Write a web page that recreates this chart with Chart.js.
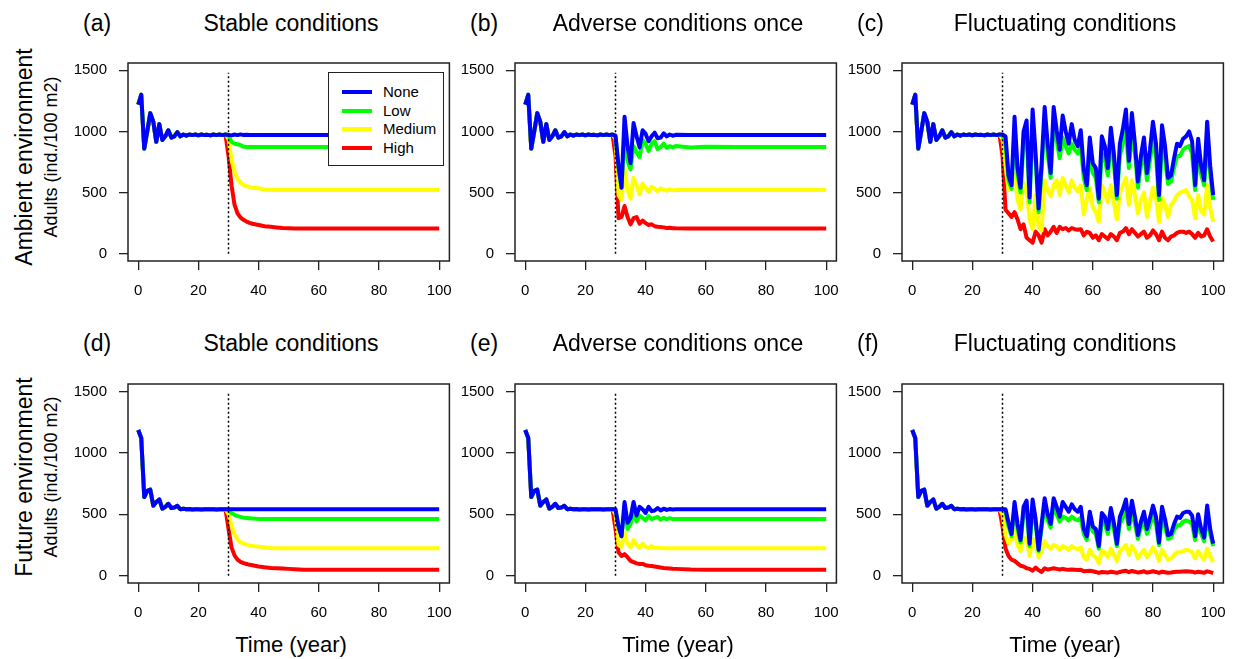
<!DOCTYPE html>
<html>
<head>
<meta charset="utf-8">
<title>Adults over time</title>
<script src="https://cdn.jsdelivr.net/npm/chart.js@4.4.1/dist/chart.umd.min.js"></script>
<style>
  body { margin: 0; background: #fff; width: 1235px; height: 659px; overflow: hidden; position: relative;
         font-family: "Liberation Sans", Arial, sans-serif; color: #000; }
  .txt { position: absolute; white-space: nowrap; line-height: 1; }
  .rot { position: absolute; white-space: nowrap; line-height: 1; transform: translate(-50%, -50%) rotate(-90deg); }
  .legend { position: absolute; border: 1.5px solid #222; background: #fff; box-sizing: border-box; }
  .legend .sw { position: absolute; height: 4px; }
  .legend .lb { position: absolute; font-size: 15px; line-height: 1; }
</style>
</head>
<body>
<script>
// ---- data ----
const seriesNames = ["None", "Low", "Medium", "High"];
const seriesColors = ["#0000ff", "#00ff00", "#ffff00", "#ff0000"];
const xTicks = [0, 20, 40, 60, 80, 100];
const yTicks = [0, 500, 1000, 1500];
const changeYear = 30;
const markerTop = [1480, 1500];

const yearsEarly = [0, 1, 2, 3, 4, 5, 6, 7, 8, 9, 10, 11, 12, 13, 14, 15, 16, 17, 18, 19,
                    20, 21, 22, 23, 24, 25, 26, 27, 28, 29];
const noneEarlyAmbient = [1220, 1300, 860, 1000, 1150, 1080, 915, 1060, 930, 960,
                          1010, 950, 960, 995, 960, 975, 965, 975, 970, 975,
                          968, 975, 970, 972, 968, 975, 970, 975, 970, 975];
const noneEarlyFuture = [1185, 1120, 640, 690, 700, 570, 600, 620, 545, 560,
                         585, 550, 555, 568, 540, 545, 540, 542, 538, 541,
                         540, 539, 541, 540, 540, 541, 539, 540, 540, 540];

// stable conditions (a, d)
const yearsStable = [30, 31, 32, 33, 34, 35, 36, 37, 38, 40, 42, 44, 46, 48, 50, 52, 55, 60, 70, 80, 90, 100];
const noneA = [972, 968, 975, 970, 976, 970, 972, 970, 970, 970, 970, 970, 970, 970, 970, 970, 970, 970, 970, 970, 970, 970];
const lowA  = [965, 915, 900, 895, 888, 876, 872, 872, 872, 872, 872, 872, 872, 872, 872, 872, 872, 872, 872, 872, 872, 872];
const medA  = [940, 770, 670, 610, 580, 562, 552, 545, 540, 535, 525, 522, 521, 520, 520, 520, 520, 520, 520, 520, 520, 520];
const highA = [800, 560, 400, 330, 295, 277, 262, 252, 245, 235, 225, 220, 215, 210, 207, 205, 205, 205, 205, 205, 205, 205];
const noneD = [540, 540, 540, 540, 540, 540, 540, 540, 540, 540, 540, 540, 540, 540, 540, 540, 540, 540, 540, 540, 540, 540];
const lowD  = [535, 508, 495, 485, 478, 472, 470, 468, 466, 462, 462, 462, 462, 462, 462, 462, 462, 462, 462, 462, 462, 462];
const medD  = [500, 410, 335, 295, 272, 260, 252, 246, 242, 236, 230, 225, 223, 223, 223, 223, 223, 223, 223, 223, 223, 223];
const highD = [380, 230, 165, 130, 112, 102, 95, 88, 84, 75, 68, 63, 60, 58, 55, 52, 48, 47, 47, 47, 47, 47];

// adverse conditions once (b, e)
const yearsOnce = [30, 31, 32, 33, 34, 35, 36, 37, 38, 39, 40, 41, 42, 43, 44, 45, 46, 47, 48, 49, 50, 55, 60, 70, 80, 90, 100];
const noneB = [965, 720, 540, 1120, 880, 740, 1070, 960, 870, 1010, 980, 920, 960, 990, 945, 950, 985, 960, 975, 965, 972, 970, 970, 970, 970, 970, 970];
const lowB  = [960, 700, 540, 980, 760, 690, 880, 830, 790, 930, 900, 840, 900, 920, 855, 870, 900, 865, 880, 870, 880, 868, 875, 872, 872, 872, 872];
const medB  = [940, 480, 440, 700, 520, 450, 620, 560, 485, 575, 540, 505, 548, 530, 512, 535, 525, 515, 525, 518, 522, 520, 520, 520, 520, 520, 520];
const highB = [800, 290, 300, 390, 300, 240, 290, 300, 245, 270, 250, 235, 240, 225, 220, 218, 215, 210, 212, 208, 207, 205, 205, 205, 205, 205, 205];
const noneE = [540, 400, 320, 600, 430, 470, 600, 490, 560, 540, 510, 560, 525, 530, 550, 530, 545, 535, 542, 538, 540, 540, 540, 540, 540, 540, 540];
const lowE  = [535, 400, 320, 560, 380, 420, 520, 440, 490, 470, 450, 485, 460, 470, 478, 455, 470, 460, 468, 460, 462, 462, 462, 462, 462, 462, 462];
const medE  = [500, 250, 235, 350, 260, 230, 290, 250, 225, 260, 235, 225, 240, 225, 228, 224, 223, 223, 223, 223, 223, 223, 223, 223, 223, 223, 223];
const highE = [380, 190, 160, 175, 150, 120, 110, 100, 95, 95, 85, 80, 78, 74, 70, 66, 62, 60, 58, 56, 55, 50, 48, 47, 47, 47, 47];

// fluctuating conditions (c, f)
const yearsFluct = [30, 31, 32, 33, 34, 35, 36, 37, 38, 39, 40, 41, 42, 43, 44, 45, 46, 47, 48, 49,
                    50, 51, 52, 53, 54, 55, 56, 57, 58, 59, 60, 61, 62, 63, 64, 65, 66, 67, 68, 69,
                    70, 71, 72, 73, 74, 75, 76, 77, 78, 79, 80, 81, 82, 83, 84, 85, 86, 87, 88, 89,
                    90, 91, 92, 93, 94, 95, 96, 97, 98, 99, 100];
const noneC = [975, 960, 640, 560, 1120, 700, 540, 1000, 1090, 460,
               1180, 820, 370, 740, 1200, 900, 660, 1200, 1010, 850,
               1130, 1000, 900, 1060, 930, 880, 1010, 690, 560, 950,
               740, 700, 450, 960, 880, 700, 1030, 820, 480, 900,
               1020, 1180, 760, 1150, 900, 590, 800, 950, 660, 850,
               1080, 900, 480, 1050, 880, 620, 640, 780, 900, 880,
               940, 960, 1000, 920, 560, 940, 720, 600, 1080, 720,
               480];
const lowC = [965, 900, 600, 530, 1000, 650, 500, 900, 980, 420,
              1050, 760, 340, 680, 1080, 820, 620, 1080, 930, 780,
              950, 880, 820, 900, 850, 820, 880, 620, 520, 820,
              660, 620, 420, 820, 780, 640, 900, 740, 450, 800,
              900, 1000, 700, 1000, 820, 540, 720, 840, 600, 760,
              930, 800, 440, 900, 780, 570, 590, 700, 800, 800,
              850, 870, 880, 820, 520, 820, 650, 560, 920, 650,
              440];
const medC = [940, 720, 520, 600, 660, 440, 360, 580, 520, 280,
              200, 480, 220, 190, 600, 520, 470, 560, 600, 480,
              620, 560, 500, 600, 540, 510, 560, 320, 440, 540,
              380, 340, 260, 560, 500, 420, 560, 420, 280, 500,
              560, 620, 400, 600, 480, 330, 440, 500, 300, 420,
              540, 460, 260, 460, 400, 300, 400, 430, 480, 500,
              510, 520, 470, 440, 290, 480, 350, 320, 560, 380,
              260];
const highC = [800, 360, 330, 300, 340, 280, 200, 240, 130, 110,
               90, 180, 150, 90, 200, 150, 180, 220, 170, 220,
               200, 210, 190, 210, 200, 195, 200, 150, 180, 170,
               130, 150, 110, 160, 140, 120, 160, 140, 110, 170,
               180, 210, 160, 200, 170, 140, 160, 180, 130, 150,
               190, 160, 110, 180, 130, 110, 140, 150, 170, 180,
               180, 170, 180, 160, 130, 170, 140, 150, 200, 140,
               100];
const noneF = [540, 540, 430, 340, 600, 420, 290, 560, 610, 260,
               620, 460, 210, 420, 630, 500, 420, 630, 560, 480,
               600, 560, 520, 580, 540, 520, 560, 380, 320, 520,
               400, 380, 240, 510, 480, 380, 550, 430, 260, 480,
               540, 620, 420, 610, 480, 330, 440, 520, 380, 470,
               570, 480, 270, 560, 460, 330, 340, 420, 480, 470,
               510, 520, 520, 490, 320, 500, 380, 310, 570, 380,
               260];
const lowF = [535, 520, 400, 320, 540, 380, 270, 500, 540, 240,
              550, 420, 200, 390, 560, 450, 390, 560, 500, 440,
              480, 470, 450, 480, 460, 450, 470, 340, 290, 450,
              360, 340, 220, 440, 420, 340, 470, 380, 240, 420,
              470, 530, 380, 520, 420, 300, 390, 450, 340, 410,
              490, 420, 250, 470, 400, 300, 310, 370, 410, 410,
              440, 450, 440, 420, 290, 430, 340, 280, 480, 340,
              240];
const medF = [500, 330, 260, 300, 370, 250, 200, 310, 300, 160,
              300, 250, 150, 200, 280, 240, 220, 250, 240, 210,
              240, 230, 210, 240, 225, 215, 230, 150, 130, 210,
              170, 150, 100, 200, 190, 150, 220, 170, 120, 200,
              220, 250, 170, 240, 200, 140, 180, 210, 150, 180,
              230, 190, 120, 210, 170, 130, 140, 170, 190, 190,
              200, 210, 205, 190, 140, 200, 160, 130, 220, 160,
              110];
const highF = [400, 220, 160, 130, 120, 100, 80, 75, 60, 55,
               40, 65, 45, 30, 60, 50, 55, 60, 55, 50,
               55, 50, 48, 50, 48, 46, 48, 35, 38, 40,
               35, 30, 22, 30, 28, 25, 32, 28, 22, 30,
               35, 40, 28, 38, 32, 25, 30, 35, 25, 30,
               36, 30, 22, 32, 28, 24, 26, 30, 32, 32,
               34, 35, 34, 32, 25, 32, 28, 24, 35, 28,
               20];

const colTitles = ["Stable conditions", "Adverse conditions once", "Fluctuating conditions"];
const rowTitles = ["Ambient environment", "Future environment"];
const yTitle = "Adults (ind./100 m2)";
const xTitle = "Time (year)";
const panelTags = ["(a)", "(b)", "(c)", "(d)", "(e)", "(f)"];

// ---- layout ----
const colLeft = [128, 515, 902];
const rowTop = [52, 373];
const rowH = [209, 210];
const BOXW = 326;
const YW = 60, PT = 10, PR = 10, XH = 45;
const FONT = '"Liberation Sans", Arial, sans-serif';

Chart.defaults.font.family = FONT;
Chart.defaults.color = "#000";

const panels = [
  { row: 0, col: 0, early: noneEarlyAmbient, after: yearsStable, series: [noneA, lowA, medA, highA] },
  { row: 0, col: 1, early: noneEarlyAmbient, after: yearsOnce, series: [noneB, lowB, medB, highB] },
  { row: 0, col: 2, early: noneEarlyAmbient, after: yearsFluct, series: [noneC, lowC, medC, highC] },
  { row: 1, col: 0, early: noneEarlyFuture, after: yearsStable, series: [noneD, lowD, medD, highD] },
  { row: 1, col: 1, early: noneEarlyFuture, after: yearsOnce, series: [noneE, lowE, medE, highE] },
  { row: 1, col: 2, early: noneEarlyFuture, after: yearsFluct, series: [noneF, lowF, medF, highF] }
];

const boxPlugin = {
  id: "box",
  afterDraw(chart) {
    const a = chart.chartArea, c = chart.ctx;
    c.save();
    c.strokeStyle = "#222";
    c.lineWidth = 1.5;
    c.strokeRect(a.left, a.top, a.right - a.left, a.bottom - a.top);
    c.restore();
  }
};

function addText(str, left, top, size, extra) {
  const d = document.createElement("div");
  d.className = "txt";
  d.textContent = str;
  d.style.left = left + "px";
  d.style.top = top + "px";
  d.style.fontSize = size + "px";
  if (extra) Object.assign(d.style, extra);
  document.body.appendChild(d);
  return d;
}

function addRotated(str, cx, cy, size) {
  const d = document.createElement("div");
  d.className = "rot";
  d.textContent = str;
  d.style.left = cx + "px";
  d.style.top = cy + "px";
  d.style.fontSize = size + "px";
  document.body.appendChild(d);
}

panels.forEach(function (p, n) {
  const left = colLeft[p.col], top = rowTop[p.row], h = rowH[p.row];
  const W = YW + BOXW + PR, H = PT + h + XH;
  const cv = document.createElement("canvas");
  cv.width = W; cv.height = H;
  cv.style.cssText = "position:absolute;left:" + (left - YW) + "px;top:" + (top - PT) + "px;width:" + W + "px;height:" + H + "px";
  document.body.appendChild(cv);

  const datasets = [{
    data: [{ x: changeYear, y: 0 }, { x: changeYear, y: markerTop[p.row] }],
    borderColor: "#000", borderWidth: 1.5, borderDash: [2, 2.5]
  }];
  p.series.forEach(function (vals, k) {
    const pts = yearsEarly.map((t, i) => ({ x: t, y: p.early[i] }))
      .concat(p.after.map((t, i) => ({ x: t, y: vals[i] })));
    datasets.push({ label: seriesNames[k], data: pts, borderColor: seriesColors[k], borderWidth: 4 });
  });

  new Chart(cv, {
    type: "line",
    data: { datasets: datasets },
    options: {
      responsive: false,
      animation: false,
      layout: { padding: { top: PT, right: PR, left: 0, bottom: 0 } },
      plugins: { legend: { display: false }, tooltip: { enabled: false } },
      elements: { point: { radius: 0 }, line: { tension: 0, borderJoinStyle: "round", borderCapStyle: "butt" } },
      scales: {
        x: {
          type: "linear", min: -3.4, max: 103.4,
          afterBuildTicks: s => { s.ticks = xTicks.map(v => ({ value: v })); },
          afterFit: s => { s.height = XH; },
          border: { display: false },
          grid: { drawOnChartArea: false, tickLength: 9, color: "#222", lineWidth: 1.3 },
          ticks: { font: { size: 15 }, color: "#000", padding: 12, maxRotation: 0, autoSkip: false, callback: v => String(v) }
        },
        y: {
          min: -60, max: 1560,
          afterBuildTicks: s => { s.ticks = yTicks.map(v => ({ value: v })); },
          afterFit: s => { s.width = YW; },
          border: { display: false },
          grid: { drawOnChartArea: false, tickLength: 9, color: "#222", lineWidth: 1.3 },
          ticks: { font: { size: 15 }, color: "#000", padding: 12, autoSkip: false, callback: v => String(v) }
        }
      }
    },
    plugins: [boxPlugin]
  });

  // titles
  const base = p.row === 0 ? 31 : 351;
  addText(panelTags[n], left - 45, base - 19.5, 23);
  addText(colTitles[p.col], left, base - 19.5, 23, { width: BOXW + "px", textAlign: "center" });
  if (p.row === 1) addText(xTitle, left, 653 - 18.6, 22, { width: BOXW + "px", textAlign: "center" });
});

// row labels
addRotated(rowTitles[0], 24, 157, 23);
addRotated(yTitle, 51, 157, 18);
addRotated(rowTitles[1], 24, 477, 23);
addRotated(yTitle, 51, 477, 18);

// legend in panel (a)
const lg = document.createElement("div");
lg.className = "legend";
lg.style.cssText = "left:328px;top:72px;width:116px;height:94px";
document.body.appendChild(lg);
const itemY = [18.7, 38, 56.3, 74.7];
seriesNames.forEach(function (name, k) {
  const sw = document.createElement("div");
  sw.className = "sw";
  sw.style.cssText = "left:12.5px;width:30px;top:" + (itemY[k] - 2) + "px;background:" + seriesColors[k];
  lg.appendChild(sw);
  const lb = document.createElement("div");
  lb.className = "lb";
  lb.textContent = name;
  lb.style.cssText = "left:54px;top:" + (itemY[k] - 8) + "px";
  lg.appendChild(lb);
});
</script>
</body>
</html>
